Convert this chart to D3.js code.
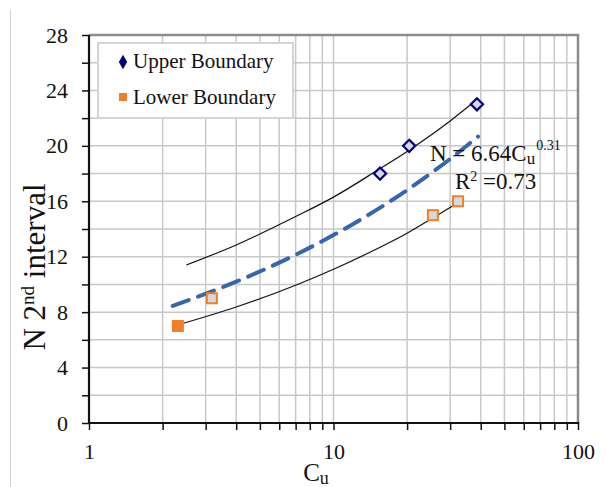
<!DOCTYPE html>
<html>
<head>
<meta charset="utf-8">
<script src="https://cdn.jsdelivr.net/npm/d3@7"></script>
<style>
  body { margin: 0; background: #fff; }
  text { font-family: "Liberation Serif", "Times New Roman", serif; fill: #111; }
</style>
</head>
<body>
<div id="chart"></div>
<script>
// Data
var upperPoints = [[15.5, 18], [20.4, 20], [38.6, 23]];
var lowerPoints = [[2.31, 7], [3.18, 9], [25.5, 15], [32.3, 16]];

// smooth curves (Cu, N) estimated along each line
var upperCurve = [[2.5, 11.4], [4, 12.85], [7, 14.9], [10, 16.3], [15, 18.2], [20, 19.6], [30, 21.8], [39, 23.4]];
var lowerCurve = [[2.3, 7.07], [4, 8.37], [7, 9.94], [10, 11.09], [15, 12.56], [20, 13.7], [25.5, 14.8], [33.5, 16.07]];
var fitCurve = [[2.2, 8.45], [4, 10.2], [7, 12.14], [10, 13.56], [15, 15.38], [20, 16.81], [30, 19.06], [39, 20.67]];

var yTicks = [0, 4, 8, 12, 16, 20, 24, 28];
var yMinor = [2, 6, 10, 14, 18, 22, 26];
var xTicks = [1, 10, 100];
var xMinor = [2, 3, 4, 5, 6, 7, 8, 9, 20, 30, 40, 50, 60, 70, 80, 90];

var svgWidth = 606;
var svgHeight = 487;
var margin = { top: 35, right: 28, bottom: 64, left: 89 };
var width = svgWidth - margin.left - margin.right;
var height = svgHeight - margin.top - margin.bottom;

var svg = d3.select("#chart")
  .append("svg")
  .attr("width", svgWidth)
  .attr("height", svgHeight);

// outer frame line on the left
svg.append("line")
  .attr("x1", 10.5).attr("x2", 10.5)
  .attr("y1", 10).attr("y2", svgHeight)
  .attr("stroke", "#d0d0d0")
  .attr("stroke-width", 1);

var plotGroup = svg.append("g")
  .attr("transform", `translate(${margin.left}, ${margin.top})`);

var x = d3.scaleLog().domain([1, 100]).range([0, width]);
var y = d3.scaleLinear().domain([0, 28]).range([height, 0]);

// gridlines
plotGroup.selectAll(".vgrid")
  .data(xMinor.concat([10]))
  .enter()
  .append("line")
  .attr("x1", d => x(d)).attr("x2", d => x(d))
  .attr("y1", 0).attr("y2", height)
  .attr("stroke", "#c8c8c8")
  .attr("stroke-width", 1.5);

plotGroup.selectAll(".hgrid")
  .data(yTicks.concat(yMinor).filter(d => d > 0 && d < 28))
  .enter()
  .append("line")
  .attr("x1", 0).attr("x2", width)
  .attr("y1", d => y(d)).attr("y2", d => y(d))
  .attr("stroke", "#c8c8c8")
  .attr("stroke-width", 1.5);

// top and right frame
plotGroup.append("path")
  .attr("d", `M0,0H${width}V${height}`)
  .attr("fill", "none")
  .attr("stroke", "#8c8c8c")
  .attr("stroke-width", 2.5);

// axes
var bottomAxis = d3.axisBottom(x)
  .tickValues(xTicks.concat(xMinor))
  .tickFormat(d => xTicks.indexOf(d) >= 0 ? d : "")
  .tickSize(7)
  .tickPadding(13);
var leftAxis = d3.axisLeft(y)
  .tickValues(yTicks.concat(yMinor))
  .tickFormat(d => yTicks.indexOf(d) >= 0 ? d : "")
  .tickSize(7)
  .tickPadding(14);

var gx = plotGroup.append("g")
  .attr("transform", `translate(0, ${height})`)
  .call(bottomAxis);
var gy = plotGroup.append("g")
  .call(leftAxis);

[gx, gy].forEach(function(g) {
  g.select(".domain").attr("stroke", "#111").attr("stroke-width", 2.2);
  g.selectAll(".tick line").attr("stroke", "#111").attr("stroke-width", 1.5);
  g.selectAll("text")
    .style("font-family", "Liberation Serif, serif")
    .style("font-size", "22px")
    .attr("fill", "#111");
});
gx.select(".domain").attr("d", `M0,0H${width}`);
gy.select(".domain").attr("d", `M0,${height}V0`);
gx.selectAll(".tick line").attr("y1", -1);

// lines
var line = d3.line()
  .x(d => x(d[0]))
  .y(d => y(d[1]))
  .curve(d3.curveMonotoneX);

plotGroup.append("path")
  .datum(upperCurve)
  .attr("d", line)
  .attr("fill", "none")
  .attr("stroke", "#111")
  .attr("stroke-width", 1.2);

plotGroup.append("path")
  .datum(lowerCurve)
  .attr("d", line)
  .attr("fill", "none")
  .attr("stroke", "#111")
  .attr("stroke-width", 1.2);

plotGroup.append("path")
  .datum(fitCurve)
  .attr("d", line)
  .attr("fill", "none")
  .attr("stroke", "#3766b0")
  .attr("stroke-width", 4)
  .attr("stroke-dasharray", "17,10")
  .attr("stroke-linecap", "round");

// markers
var diamond = d3.symbol().type(d3.symbolDiamond2).size(95);
plotGroup.selectAll(".upper")
  .data(upperPoints)
  .enter()
  .append("path")
  .attr("d", diamond)
  .attr("transform", d => `translate(${x(d[0])}, ${y(d[1])})`)
  .attr("fill", "#d8d8d8")
  .attr("stroke", "#00007a")
  .attr("stroke-width", 2.2);

plotGroup.selectAll(".lower")
  .data(lowerPoints)
  .enter()
  .append("rect")
  .attr("x", d => x(d[0]) - 5)
  .attr("y", d => y(d[1]) - 5)
  .attr("width", 10)
  .attr("height", 10)
  .attr("fill", (d, i) => i == 0 ? "#f07f2a" : "#d8d8d8")
  .attr("stroke", "#f07f2a")
  .attr("stroke-width", 2);

// equation text
var eq = plotGroup.append("text")
  .attr("x", 430 - margin.left)
  .attr("y", 161 - margin.top)
  .style("font-size", "23px");
eq.append("tspan").text("N = 6.64C");
eq.append("tspan").text("u").attr("dy", 3).style("font-size", "17px");
eq.append("tspan").text("0.31").attr("dy", -14).attr("dx", 1).style("font-size", "14px");

var r2 = plotGroup.append("text")
  .attr("x", 455 - margin.left)
  .attr("y", 189 - margin.top)
  .style("font-size", "23px");
r2.append("tspan").text("R");
r2.append("tspan").text("2").attr("dy", -8).style("font-size", "14px");
r2.append("tspan").text(" =0.73").attr("dy", 8);

// legend
var legend = svg.append("g");
legend.append("rect")
  .attr("x", 98).attr("y", 43)
  .attr("width", 195).attr("height", 75)
  .attr("fill", "#fff")
  .attr("stroke", "#d4d4d4")
  .attr("stroke-width", 2);

legend.append("path")
  .attr("d", d3.symbol().type(d3.symbolDiamond).size(60))
  .attr("transform", "translate(123, 62)")
  .attr("fill", "#00007a");
legend.append("text")
  .attr("x", 133).attr("y", 68)
  .style("font-size", "21px")
  .text("Upper Boundary");

legend.append("rect")
  .attr("x", 119).attr("y", 93)
  .attr("width", 8).attr("height", 8)
  .attr("fill", "#f07f2a");
legend.append("text")
  .attr("x", 133).attr("y", 104)
  .style("font-size", "21px")
  .text("Lower Boundary");

// axis labels
var yl = svg.append("text")
  .attr("transform", "translate(45, 267) rotate(-90)")
  .attr("text-anchor", "middle")
  .style("font-size", "31px");
yl.append("tspan").text("N 2");
yl.append("tspan").text("nd").attr("dy", -11).style("font-size", "19px");
yl.append("tspan").text(" interval").attr("dy", 11);

var xl = svg.append("text")
  .attr("x", 316)
  .attr("y", 481)
  .attr("text-anchor", "middle")
  .style("font-size", "25px");
xl.append("tspan").text("C");
xl.append("tspan").text("u").attr("dy", 3).style("font-size", "18px");
</script>
</body>
</html>
